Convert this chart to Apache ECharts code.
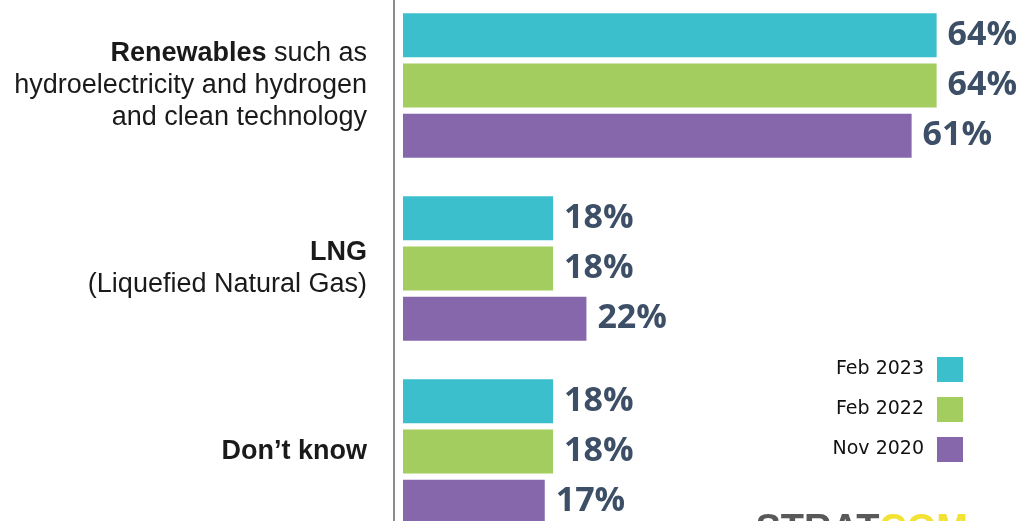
<!DOCTYPE html>
<html>
<head>
<meta charset="utf-8">
<script src="https://cdn.jsdelivr.net/npm/echarts@6/dist/echarts.min.js"></script>
<style>
  html, body { margin: 0; padding: 0; background: #fff; }
  #chart { width: 1025px; height: 521px; }
</style>
</head>
<body>
<div id="chart"></div>
<script>
// Categories: bold lead word(s) plus the regular remainder
const categoryBold = ['Renewables', 'LNG', 'Don\u2019t know'];
const categoryRest = [' such as\nhydroelectricity and hydrogen\nand clean technology', '\n(Liquefied Natural Gas)', ''];

// Survey waves
const seriesNames = ['Feb 2023', 'Feb 2022', 'Nov 2020'];
const feb2023 = [64, 18, 18];
const feb2022 = [64, 18, 18];
const nov2020 = [61, 22, 17];

const colors = ['#3cbfcc', '#a4cd60', '#8667ac'];

const categories = categoryBold.map((b, i) => b + categoryRest[i]);

function categoryLabel(value) {
  const i = categories.indexOf(value);
  const rest = categoryRest[i].split('\n');
  const lines = ['{b|' + categoryBold[i] + '}' + (rest[0] ? '{r|' + rest[0] + '}' : '')];
  for (let k = 1; k < rest.length; k++) lines.push('{r|' + rest[k] + '}');
  return lines.join('\n');
}

const chart = echarts.init(document.getElementById('chart'), null, { renderer: 'canvas' });

const valueLabel = {
  show: true,
  position: 'right',
  distance: 11,
  formatter: '{c}%',
  color: '#3d4f66',
  fontFamily: 'Open Sans',
  fontWeight: 'bold',
  fontSize: 34
};

const seriesData = [feb2023, feb2022, nov2020];

chart.setOption({
  animation: false,
  backgroundColor: '#ffffff',
  grid: { left: 403, right: 5, top: -6, bottom: -22, outerBoundsMode: 'none', containLabel: false },
  xAxis: {
    type: 'value', min: 0, max: 74,
    show: false
  },
  yAxis: {
    type: 'category',
    data: categories,
    inverse: true,
    offset: 9,
    axisLine: { show: true, onZero: false, lineStyle: { color: '#8c8c8c', width: 2 } },
    axisTick: { show: false },
    splitLine: { show: false },
    axisLabel: {
      margin: 27,
      align: 'right',
      formatter: categoryLabel,
      rich: {
        b: { fontFamily: 'Liberation Sans', fontWeight: 'bold', fontSize: 27, color: '#1a1a1a', lineHeight: 32, align: 'right' },
        r: { fontFamily: 'Liberation Sans', fontSize: 27, color: '#1a1a1a', lineHeight: 32, align: 'right' }
      }
    }
  },
  legend: {
    orient: 'vertical',
    right: 57,
    top: 352,
    align: 'right',
    itemWidth: 26,
    itemHeight: 25,
    itemGap: 15,
    icon: 'rect',
    data: seriesNames,
    textStyle: { fontFamily: 'DejaVu Sans', fontSize: 19, color: '#111111', padding: [0, 8, 0, 0] }
  },
  graphic: [{
    type: 'text',
    right: 57,
    top: 512,
    style: {
      text: '{g|STRAT}{y|COM}',
      rich: {
        g: { fontFamily: 'Liberation Sans', fontWeight: 'bold', fontSize: 38, fill: '#595959' },
        y: { fontFamily: 'Liberation Sans', fontWeight: 'bold', fontSize: 38, fill: '#f2e233' }
      }
    }
  }],
  series: seriesNames.map((name, i) => ({
    name: name,
    type: 'bar',
    data: seriesData[i],
    barWidth: 44,
    barGap: '14%',
    itemStyle: { color: colors[i] },
    label: valueLabel
  }))
});
</script>
</body>
</html>
